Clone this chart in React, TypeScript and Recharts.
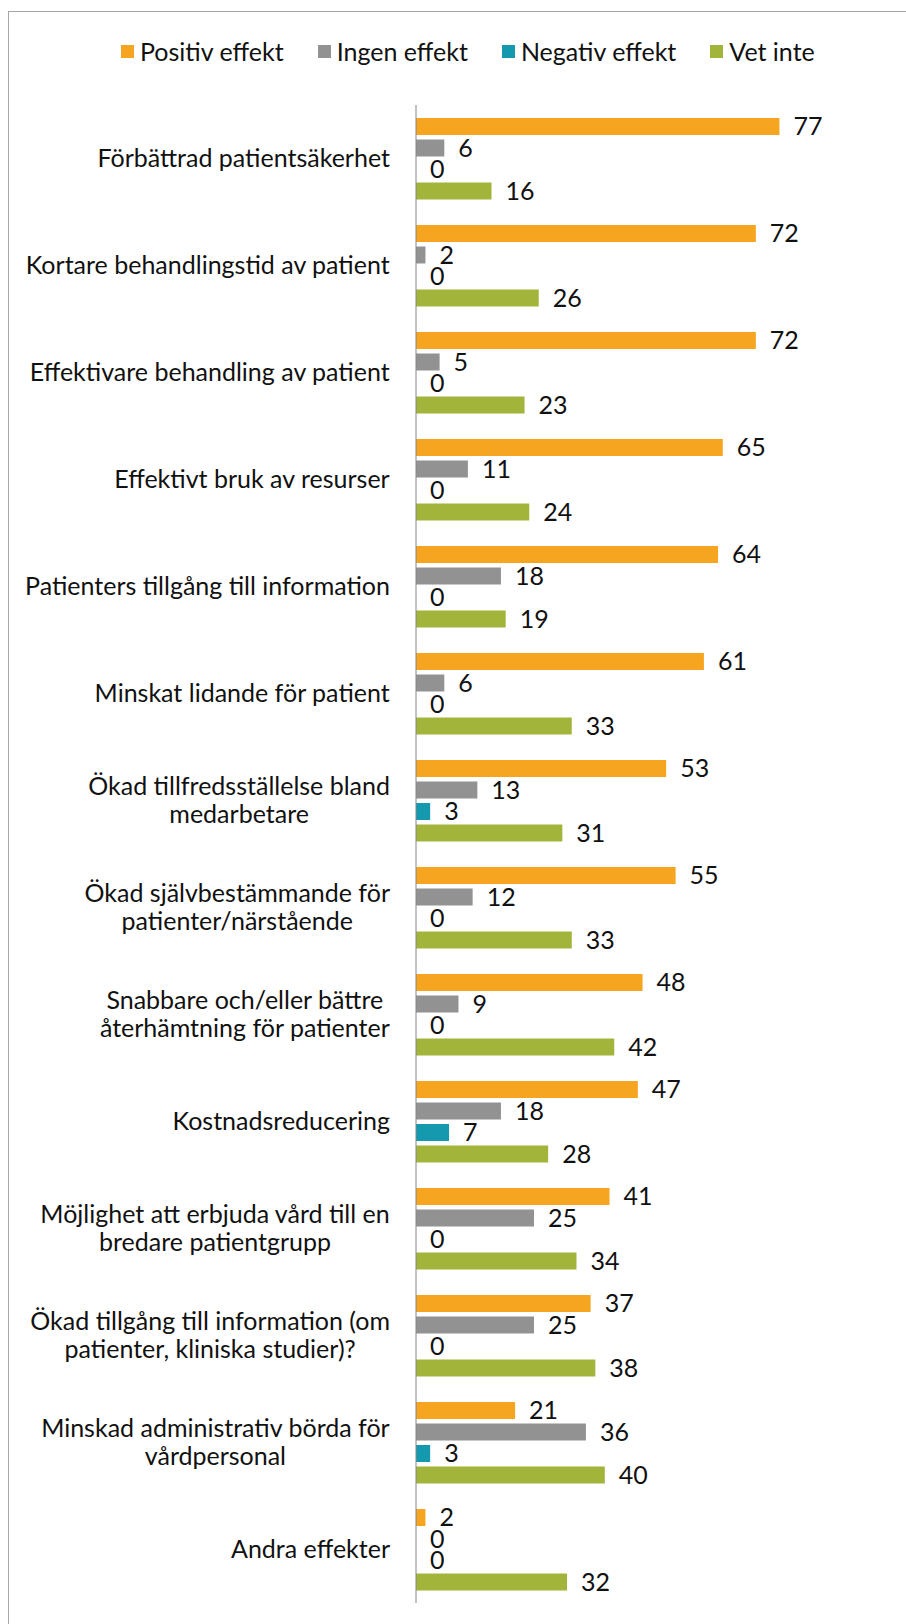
import React from 'react';
import { BarChart, Bar, XAxis, YAxis, LabelList } from 'recharts';

document.body.style.margin = '0';

const categories = [
  'Förbättrad patientsäkerhet',
  'Kortare behandlingstid av patient',
  'Effektivare behandling av patient',
  'Effektivt bruk av resurser',
  'Patienters tillgång till information',
  'Minskat lidande för patient',
  'Ökad tillfredsställelse bland\nmedarbetare',
  'Ökad självbestämmande för\npatienter/närstående',
  'Snabbare och/eller bättre\nåterhämtning för patienter',
  'Kostnadsreducering',
  'Möjlighet att erbjuda vård till en\nbredare patientgrupp',
  'Ökad tillgång till information (om\npatienter, kliniska studier)?',
  'Minskad administrativ börda för\nvårdpersonal',
  'Andra effekter',
];

const positiv = [77, 72, 72, 65, 64, 61, 53, 55, 48, 47, 41, 37, 21, 2];
const ingen = [6, 2, 5, 11, 18, 6, 13, 12, 9, 18, 25, 25, 36, 0];
const negativ = [0, 0, 0, 0, 0, 0, 3, 0, 0, 7, 0, 0, 3, 0];
const vetInte = [16, 26, 23, 24, 19, 33, 31, 33, 42, 28, 34, 38, 40, 32];

const seriesKeys = ['positiv', 'ingen', 'negativ', 'vetInte'];
const seriesNames = ['Positiv effekt', 'Ingen effekt', 'Negativ effekt', 'Vet inte'];
const seriesColors = ['#F5A51F', '#929292', '#1599AF', '#A3B43B'];

const data = categories.map((name, i) => ({
  name,
  positiv: positiv[i],
  ingen: ingen[i],
  negativ: negativ[i],
  vetInte: vetInte[i],
}));

const FONT = "Lato, sans-serif";
const FS = 25;
const TEXT = '#111';

let ctx: CanvasRenderingContext2D | null = null;
const measure = (s: string) => {
  if (!ctx) ctx = document.createElement('canvas').getContext('2d');
  if (!ctx) return s.length * 10;
  ctx.font = `${FS}px Lato`;
  return ctx.measureText(s).width;
};

// multi-line labels: lines centred on each other, block right-aligned
const CategoryTick = (props: any) => {
  const { x, y, payload } = props;
  const lines = String(payload.value).split('\n');
  const maxW = Math.max(...lines.map(measure));
  const cx = x - maxW / 2;
  const lh = 28;
  const y0 = y - ((lines.length - 1) * lh) / 2 + FS * 0.35;
  return (
    <text textAnchor="middle" fontSize={FS} fontFamily={FONT} fill={TEXT}>
      {lines.map((l, i) => (
        <tspan key={i} x={cx} y={y0 + i * lh}>{l}</tspan>
      ))}
    </text>
  );
};

const LegendRow = () => (
  <div style={{ position: 'absolute', left: 121, top: 36, display: 'flex', alignItems: 'center', fontFamily: FONT, fontSize: FS, color: TEXT, whiteSpace: 'nowrap' }}>
    {seriesNames.map((n, i) => (
      <div key={n} style={{ display: 'flex', alignItems: 'center', marginRight: 34 }}>
        <span style={{ width: 13, height: 13, background: seriesColors[i], marginRight: 6, display: 'inline-block' }} />
        <span>{n}</span>
      </div>
    ))}
  </div>
);

export default function App() {
  return (
    <div style={{ position: 'relative', width: 906, height: 1624, overflow: 'hidden', background: '#fff' }}>
      <div style={{ position: 'absolute', left: 8, top: 11, width: 1000, height: 1700, border: '1px solid #a6a6a6' }} />
      <LegendRow />
      <div style={{ position: 'absolute', left: 0, top: 0 }}>
        <BarChart
          layout="vertical"
          width={906}
          height={1624}
          data={data}
          margin={{ top: 105, right: 18, bottom: 21, left: 0 }}
          barSize={17}
          barGap={4.5}
        >
          <XAxis type="number" domain={[0, 100]} hide />
          <YAxis
            type="category"
            dataKey="name"
            width={416}
            interval={0}
            axisLine={{ stroke: '#868686' }}
            tickLine={false}
            tickSize={0}
            tickMargin={26}
            tick={<CategoryTick />}
          />
          {seriesKeys.map((k, i) => (
            <Bar
              key={k}
              dataKey={k}
              name={seriesNames[i]}
              fill={seriesColors[i]}
              minPointSize={(v: number) => (v === 0 ? 0.01 : 0)}
              isAnimationActive={false}
            >
              <LabelList dataKey={k} position="right" offset={14} fill={TEXT} fontSize={FS} fontFamily={FONT} />
            </Bar>
          ))}
        </BarChart>
      </div>
    </div>
  );
}
